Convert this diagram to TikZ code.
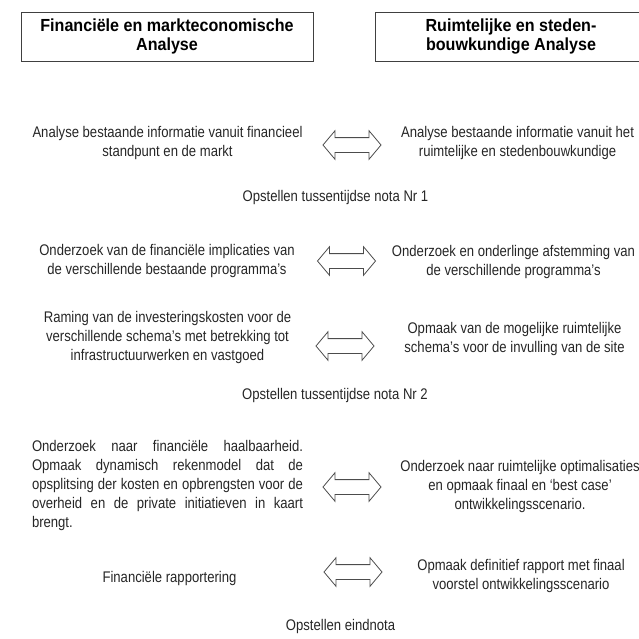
\documentclass[tikz,border=0pt]{standalone}
\usepackage{fontspec}
\setmainfont[FakeStretch=0.85]{Liberation Sans}
\newfontfamily\headfont[FakeStretch=0.92]{Liberation Sans}
\usetikzlibrary{shapes.arrows}
\tikzset{
  kop/.style={draw=black!75,line width=1pt,minimum width=#1,minimum height=49pt,inner sep=0pt,align=center,font=\headfont\bfseries\fontsize{17.5}{18.4}\selectfont},
  txt/.style={align=center,inner sep=0pt,text=black!85,font=\fontsize{15.4}{19}\selectfont},
  dblarrow/.style={double arrow,draw=black!70,line width=0.8pt,minimum height=58pt,text height=0pt,text depth=0pt,inner xsep=0pt,inner ysep=7pt,double arrow head extend=7pt,double arrow tip angle=100}
}
\begin{document}
\begin{tikzpicture}[x=1pt,y=-1pt]
\useasboundingbox (0,0) rectangle (639,638);
% kolomkoppen
\node[kop=292pt] (kopL) at (167,36.5) {Financiële en markteconomische\\Analyse};
\node[kop=272pt] (kopR) at (511,36.5) {Ruimtelijke en steden-\\bouwkundige Analyse};
% stap 1
\node[txt] (finA) at (167.5,143.5) {Analyse bestaande informatie vanuit financieel\\standpunt en de markt};
\node[txt] (ruiA) at (517.5,143) {Analyse bestaande informatie vanuit het\\ruimtelijke en stedenbouwkundige};
\node[txt] (nota1) at (335.5,198) {Opstellen tussentijdse nota Nr 1};
% stap 2
\node[txt] (finB) at (167,261) {Onderzoek van de financiële implicaties van\\de verschillende bestaande programma's};
\node[txt] (ruiB) at (513.5,262) {Onderzoek en onderlinge afstemming van\\de verschillende programma's};
\node[txt] (finC) at (167.5,338) {Raming van de investeringskosten voor de\\verschillende schema's met betrekking tot\\infrastructuurwerken en vastgoed};
\node[txt] (ruiC) at (514.5,339.5) {Opmaak van de mogelijke ruimtelijke\\schema's voor de invulling van de site};
\node[txt] (nota2) at (335,396) {Opstellen tussentijdse nota Nr 2};
% stap 3
\node[txt,align=left] (finD) at (167.5,485.5) {\makebox[271pt][s]{Onderzoek naar financiële haalbaarheid.}\\\makebox[271pt][s]{Opmaak dynamisch rekenmodel dat de}\\\makebox[271pt][s]{opsplitsing der kosten en opbrengsten voor de}\\\makebox[271pt][s]{overheid en de private initiatieven in kaart}\\brengt.};
\node[txt] (ruiD) at (520,487) {Onderzoek naar ruimtelijke optimalisaties\\en opmaak finaal en `best case'\\ontwikkelingsscenario.};
\node[txt] (finE) at (169.5,579) {Financiële rapportering};
\node[txt] (ruiE) at (521,576.5) {Opmaak definitief rapport met finaal\\voorstel ontwikkelingsscenario};
\node[txt] (eind) at (340.5,627) {Opstellen eindnota};
% pijlen tussen de kolommen
\foreach \n/\x/\y in {A/352/145,B/346.5/261,C/345/346,D/352/487,E/353/572}
  \node[dblarrow] (pijl\n) at (\x,\y) {};
\end{tikzpicture}
\end{document}
